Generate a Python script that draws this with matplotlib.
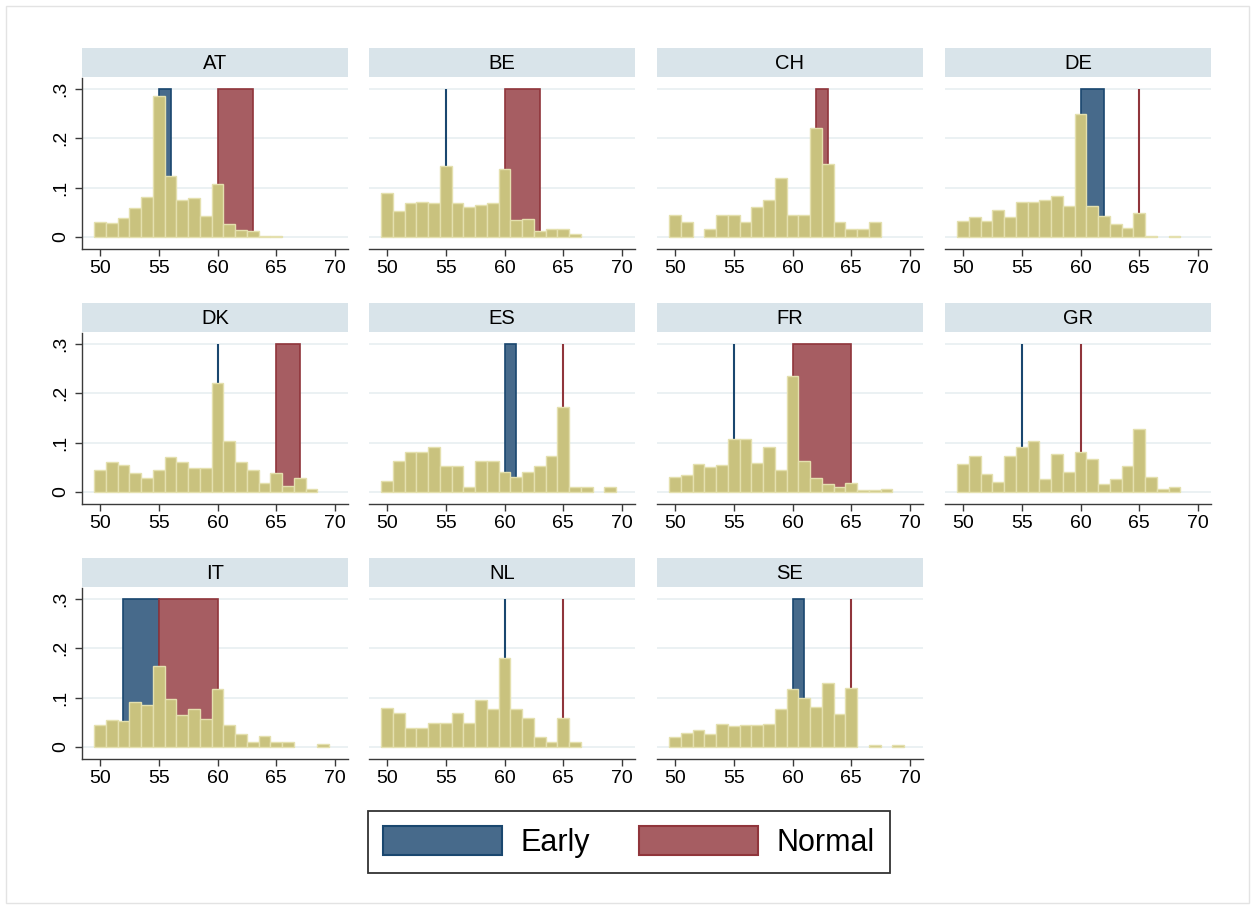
import matplotlib
matplotlib.use("Agg")
import matplotlib.pyplot as plt
from matplotlib.patches import Patch, Rectangle

plt.rcParams['font.family'] = ['Liberation Sans', 'DejaVu Sans']

ages = list(range(50, 70))
countries = ["AT", "BE", "CH", "DE", "DK", "ES", "FR", "GR", "IT", "NL", "SE"]

AT = [0.031, 0.028, 0.039, 0.059, 0.081, 0.286, 0.123, 0.075, 0.078, 0.042,
      0.108, 0.026, 0.014, 0.012, 0.003, 0.003, 0, 0, 0, 0]
BE = [0.089, 0.052, 0.068, 0.070, 0.068, 0.144, 0.068, 0.061, 0.064, 0.068,
      0.137, 0.034, 0.037, 0.012, 0.016, 0.016, 0.007, 0, 0, 0]
CH = [0.045, 0.030, 0, 0.016, 0.045, 0.045, 0.030, 0.060, 0.075, 0.119,
      0.045, 0.045, 0.221, 0.148, 0.030, 0.016, 0.016, 0.030, 0, 0]
DE = [0.032, 0.040, 0.032, 0.054, 0.040, 0.071, 0.071, 0.074, 0.083, 0.062,
      0.249, 0.062, 0.043, 0.026, 0.018, 0.049, 0.003, 0, 0.003, 0]
DK = [0.044, 0.060, 0.055, 0.039, 0.028, 0.044, 0.071, 0.060, 0.049, 0.049,
      0.220, 0.103, 0.060, 0.044, 0.018, 0.039, 0.012, 0.028, 0.007, 0]
ES = [0.022, 0.062, 0.081, 0.081, 0.092, 0.052, 0.052, 0.011, 0.062, 0.062,
      0.041, 0.031, 0.041, 0.052, 0.072, 0.173, 0.011, 0.011, 0, 0.011]
FR = [0.031, 0.035, 0.056, 0.050, 0.055, 0.107, 0.107, 0.058, 0.092, 0.044,
      0.235, 0.062, 0.028, 0.016, 0.010, 0.019, 0.005, 0.005, 0.007, 0]
GR = [0.057, 0.072, 0.036, 0.021, 0.072, 0.092, 0.103, 0.026, 0.077, 0.041,
      0.082, 0.067, 0.016, 0.026, 0.052, 0.128, 0.031, 0.006, 0.011, 0]
IT = [0.044, 0.055, 0.052, 0.092, 0.085, 0.164, 0.097, 0.064, 0.077, 0.056,
      0.118, 0.044, 0.027, 0.010, 0.023, 0.010, 0.010, 0, 0, 0.007]
NL = [0.078, 0.068, 0.039, 0.039, 0.049, 0.049, 0.068, 0.049, 0.096, 0.077,
      0.181, 0.077, 0.058, 0.020, 0.011, 0.058, 0.011, 0, 0, 0]
SE = [0.021, 0.028, 0.034, 0.026, 0.047, 0.042, 0.045, 0.045, 0.047, 0.076,
      0.117, 0.099, 0.080, 0.130, 0.066, 0.120, 0, 0.005, 0, 0.005]

# retirement age ranges (start, end); start == end is drawn as a line; None = none
early_start = [55, 55, None, 60, 60, 60, 55, 55, 52, 60, 60]
early_end   = [56, 55, None, 62, 60, 61, 55, 55, 55, 60, 61]
normal_start = [60, 60, 62, 65, 65, 65, 60, 60, 55, 65, 65]
normal_end   = [63, 63, 63, 65, 67, 65, 65, 60, 60, 65, 65]

hist = dict(zip(countries, [AT, BE, CH, DE, DK, ES, FR, GR, IT, NL, SE]))
span_top = 0.3

xticks = [50, 55, 60, 65, 70]
yticks = [0, 0.1, 0.2, 0.3]
ytick_labels = ["0", ".1", ".2", ".3"]

# colours
BAR_FILL = "#c9c27e"
BAR_EDGE = "#e4e0ae"
EARLY_FILL = "#476a8b"
EARLY_EDGE = "#1a476f"
NORMAL_FILL = "#a65d62"
NORMAL_EDGE = "#90353b"
STRIP = "#d9e4ea"
GRID = "#e9f0f2"
AXIS = "#3a3a3a"

W, H = 1255, 909
fig = plt.figure(figsize=(W / 100, H / 100), dpi=100)
fig.patch.set_facecolor("white")
fig.patches.append(Rectangle((6 / W, 6 / H), 1 - 12 / W, 1 - 12 / H,
                             transform=fig.transFigure, fill=False,
                             edgecolor="#e3e3e3", lw=1.0))

col_left = [82, 369, 657, 945]
row_top = [78, 333, 588]
ax_w, ax_h = 266, 171
strip_h = 29


def draw_span(ax, s, e, fill, edge):
    if s is None:
        return
    if e > s:
        ax.bar(s, span_top, width=e - s, align="edge", color=fill,
               edgecolor=edge, linewidth=1.2, zorder=2)
    else:
        ax.vlines(s, 0, span_top, color=edge, linewidth=1.5, zorder=2)


for i, c in enumerate(countries):
    r, k = divmod(i, 4)
    left = col_left[k]
    top = row_top[r]
    ax = fig.add_axes([left / W, (H - top - ax_h) / H, ax_w / W, ax_h / H])
    sax = fig.add_axes([left / W, (H - top + 1) / H, ax_w / W, strip_h / H])
    sax.set_facecolor(STRIP)
    sax.set_xticks([]); sax.set_yticks([])
    for sp in sax.spines.values():
        sp.set_visible(False)
    sax.text(0.5, 0.48, c, ha="center", va="center", fontsize=14.5,
             transform=sax.transAxes)

    for y in yticks:
        ax.axhline(y, color=GRID, lw=1.3, zorder=0)

    draw_span(ax, early_start[i], early_end[i], EARLY_FILL, EARLY_EDGE)
    draw_span(ax, normal_start[i], normal_end[i], NORMAL_FILL, NORMAL_EDGE)

    xs = [a for a, v in zip(ages, hist[c]) if v > 0]
    vs = [v for v in hist[c] if v > 0]
    ax.bar(xs, vs, width=1.0, color=BAR_FILL, edgecolor=BAR_EDGE,
           linewidth=1.0, zorder=3)

    ax.set_xlim(48.47, 71.1)
    ax.set_ylim(-0.0243, 0.322)
    ax.set_xticks(xticks)
    ax.tick_params(axis="x", labelsize=14, length=5, width=1, color=AXIS,
                   pad=3)
    for s in ["top", "right"]:
        ax.spines[s].set_visible(False)
    ax.spines["bottom"].set_color(AXIS)
    ax.spines["bottom"].set_linewidth(1.0)
    if k == 0:
        ax.set_yticks(yticks)
        ax.set_yticklabels(ytick_labels, rotation=90, va="center")
        ax.tick_params(axis="y", labelsize=14, length=5, width=1,
                       color=AXIS, pad=4)
        ax.spines["left"].set_color(AXIS)
        ax.spines["left"].set_linewidth(1.0)
    else:
        ax.set_yticks([])
        ax.spines["left"].set_visible(False)

handles = [Patch(facecolor=EARLY_FILL, edgecolor=EARLY_EDGE, linewidth=1.5),
           Patch(facecolor=NORMAL_FILL, edgecolor=NORMAL_EDGE, linewidth=1.5)]
leg = fig.legend(handles, ["Early", "Normal"], loc="center",
                 bbox_to_anchor=(629 / W, 1 - 842 / H), ncol=2, fontsize=22,
                 handlelength=3.9, handleheight=1.05, handletextpad=0.6,
                 columnspacing=1.6, borderpad=0.5, frameon=True,
                 fancybox=False, borderaxespad=0)
leg.get_frame().set_edgecolor("black")
leg.get_frame().set_linewidth(1.3)

fig.savefig("out.png", dpi=100, facecolor="white")
